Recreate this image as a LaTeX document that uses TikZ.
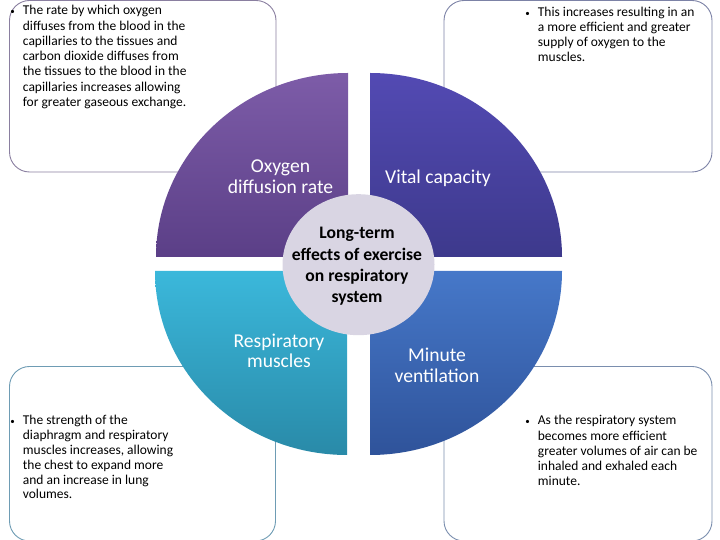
\documentclass[tikz,border=0pt]{standalone}
\usepackage{fontspec}
\setmainfont{Carlito}
\definecolor{tlTop}{HTML}{7D5CA8}
\definecolor{tlBot}{HTML}{5B3F87}
\definecolor{trTop}{HTML}{534AB3}
\definecolor{trBot}{HTML}{3D398C}
\definecolor{blTop}{HTML}{3BB8DB}
\definecolor{blBot}{HTML}{298AA8}
\definecolor{brTop}{HTML}{4678C9}
\definecolor{brBot}{HTML}{2F539A}
\definecolor{hub}{HTML}{D9D5E3}
\definecolor{tlLine}{HTML}{8A7FA0}
\definecolor{trLine}{HTML}{7C82A6}
\definecolor{blLine}{HTML}{6E9CB4}
\definecolor{brLine}{HTML}{7A8EAE}
\tikzset{
  infobox/.style={rounded corners=20pt, line width=0.9pt, fill=white},
  boxtext/.style={anchor=base west, align=left, inner sep=0pt, text=black,
    font=\fontsize{13.5}{15.2}\selectfont},
  quadlabel/.style={anchor=base, align=center, inner sep=0pt, text=white},
  hubtext/.style={anchor=base, align=center, inner sep=0pt, text=black,
    font=\fontsize{17.6}{21.3}\selectfont\bfseries}
}
\newcommand{\bul}{\makebox[0pt][r]{\raisebox{0.6pt}{\fontsize{9}{9}\selectfont•}\hspace{8pt}}}
\begin{document}
\begin{tikzpicture}[x=1pt,y=1pt]
\useasboundingbox (0,0) rectangle (720,540);
% boxes
\draw[infobox, draw=tlLine] (9.5,539.5) rectangle (276,368);
\draw[infobox, draw=trLine] (444,539.5) rectangle (712,368);
\draw[infobox, draw=blLine] (9.5,173.5) rectangle (275.5,-1);
\draw[infobox, draw=brLine] (444,173.5) rectangle (712,-1);
% quadrants
\shade[top color=tlTop, bottom color=tlBot] (348,283) -- ++(-192,0)
  arc[start angle=180, end angle=90, x radius=192, y radius=184] -- cycle;
\shade[top color=trTop, bottom color=trBot] (370,283) -- ++(192,0)
  arc[start angle=0, end angle=90, x radius=192, y radius=184] -- cycle;
\shade[top color=blTop, bottom color=blBot] (347,269) -- ++(-192,0)
  arc[start angle=180, end angle=270, x radius=192, y radius=184] -- cycle;
\shade[top color=brTop, bottom color=brBot] (370,269) -- ++(192,0)
  arc[start angle=0, end angle=-90, x radius=192, y radius=184] -- cycle;
% hub
\fill[hub] (358.5,275.3) ellipse[x radius=76, y radius=70.5];
% labels (base anchor = baseline of last line)
\node[quadlabel, font=\fontsize{19.6}{20.6}\selectfont] (oxy) at (280.5,346.7) {Oxygen\\diffusion rate};
\node[quadlabel, font=\fontsize{19.6}{20.6}\selectfont] (vital) at (438,356.7) {Vital capacity};
\node[quadlabel, font=\fontsize{19.6}{20.4}\selectfont] (resp) at (279,172.3) {Respiratory\\muscles};
\node[quadlabel, font=\fontsize{19.6}{21}\selectfont] (minute) at (437,157.3) {Minute\\ventilation};
\node[hubtext] (hubt) at (357,237.2) {Long-term\\effects of exercise\\on respiratory\\system};
% box texts
\node[boxtext, font=\fontsize{13.5}{15.25}\selectfont] (tltext) at (22.7,433.5) {\bul The rate by which oxygen\\diffuses from the blood in the\\capillaries to the tissues and\\carbon dioxide diffuses from\\the tissues to the blood in the\\capillaries increases allowing\\for greater gaseous exchange.};
\node[boxtext, font=\fontsize{13.5}{15}\selectfont] (trtext) at (537.7,478.3) {\bul This increases resulting in an\\a more efficient and greater\\supply of oxygen to the\\muscles.};
\node[boxtext, font=\fontsize{13.5}{14.8}\selectfont] (bltext) at (22.7,41) {\bul The strength of the\\diaphragm and respiratory\\muscles increases, allowing\\the chest to expand more\\and an increase in lung\\volumes.};
\node[boxtext] (brtext) at (537.7,54.2) {\bul As the respiratory system\\becomes more efficient\\greater volumes of air can be\\inhaled and exhaled each\\minute.};
\end{tikzpicture}
\end{document}
